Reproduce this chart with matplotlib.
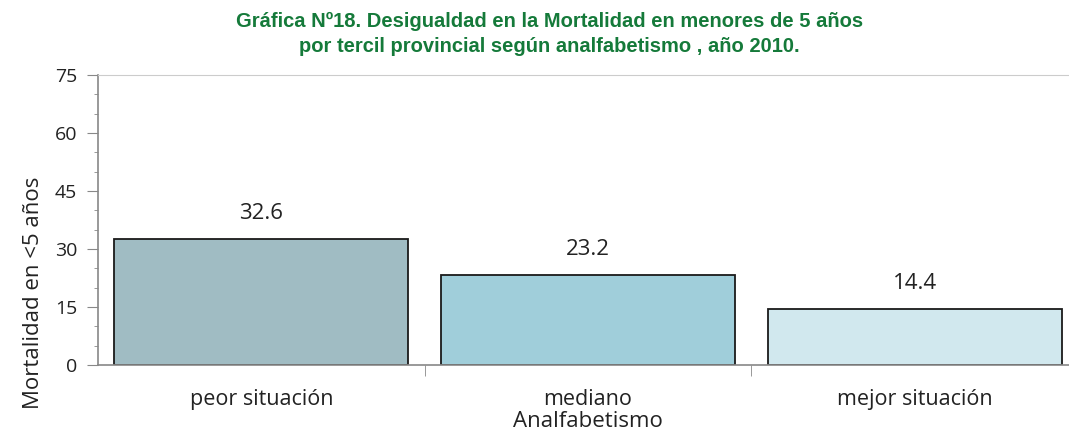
import numpy as np
import matplotlib
matplotlib.use("Agg")
import matplotlib.pyplot as plt
from matplotlib.ticker import MultipleLocator, FixedLocator

# data
categorias = ["peor situación", "mediano", "mejor situación"]
valores = [32.6, 23.2, 14.4]
colores = ["#a0bcc3", "#a0ceda", "#d1e8ee"]
titulo = ("Gráfica Nº18. Desigualdad en la Mortalidad en menores de 5 años\n"
          "por tercil provincial según analfabetismo , año 2010.")

plt.rcParams["font.family"] = ["Open Sans", "DejaVu Sans"]

fig = plt.figure(figsize=(10.69, 4.33), dpi=100)
# axis runs past the right edge of the image, like the original crop
ax = fig.add_axes([98 / 1069, 1 - 365 / 433, 980 / 1069, 290 / 433])

x = np.arange(len(categorias))
ax.bar(x, valores, width=0.9, color=colores, edgecolor="#1a1a1a", linewidth=1.3)

for xi, v in zip(x, valores):
    ax.annotate(f"{v:.1f}", (xi, v), xytext=(0, 11), textcoords="offset points",
                ha="center", va="bottom", fontsize=16, color="#222222")

ax.set_xlim(-0.5, 2.5)
ax.set_ylim(0, 75)
ax.yaxis.set_major_locator(MultipleLocator(15))
ax.yaxis.set_minor_locator(MultipleLocator(5))
ax.tick_params(axis="y", which="major", length=8, color="#888888", labelsize=14,
               labelcolor="#222222", pad=7)
ax.tick_params(axis="y", which="minor", length=3, color="#888888")

ax.set_xticks(x)
ax.set_xticklabels(categorias)
ax.xaxis.set_minor_locator(FixedLocator([0.5, 1.5]))
ax.tick_params(axis="x", which="major", length=0, labelsize=15.5, pad=17,
               labelcolor="#222222")
ax.tick_params(axis="x", which="minor", length=8, color="#888888")

for s in ["left", "bottom"]:
    ax.spines[s].set_color("#888888")
    ax.spines[s].set_linewidth(1.2)
ax.spines["top"].set_color("#cccccc")
ax.spines["right"].set_visible(False)

ax.set_ylabel("Mortalidad en <5 años", fontsize=16, color="#222222")
ax.yaxis.set_label_coords(-0.055, 0.25)
ax.set_xlabel("Analfabetismo", fontsize=16, color="#222222", va="top")
ax.xaxis.set_label_coords(0.5, -0.16)

fig.text(0.514, 0.972, titulo, ha="center", va="top", fontsize=14.5,
         fontweight="bold", color="#157a3a", linespacing=1.38,
         family=["Liberation Sans", "DejaVu Sans"])

fig.savefig("out.png", dpi=100)
